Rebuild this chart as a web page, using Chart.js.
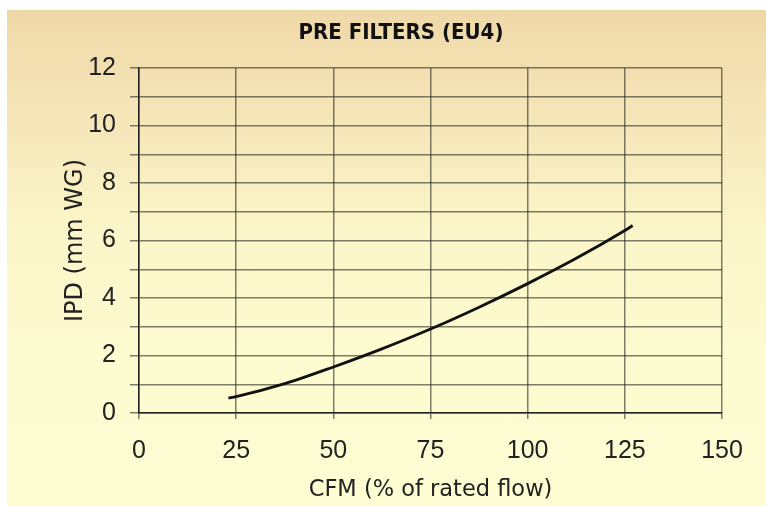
<!DOCTYPE html>
<html>
<head>
<meta charset="utf-8">
<script src="https://cdn.jsdelivr.net/npm/chart.js@4"></script>
<style>
  html, body { margin: 0; padding: 0; background: #fff; }
  #frame {
    position: absolute; left: 7px; top: 10px; width: 759px; height: 496px;
    background: linear-gradient(to bottom, #efd8a8 0%, #f6e8bb 25%, #fbf6c9 45%, #fdfbd0 70%, #fefcd2 100%);
  }
  #title {
    position: absolute; left: 194px; top: 9px; width: 400px; text-align: center;
    font-family: "DejaVu Sans", sans-serif; font-stretch: condensed; font-weight: bold;
    font-size: 22px; line-height: 26px; color: #111;
  }
  canvas { display: block; position: absolute; left: 0; top: 0; }
</style>
</head>
<body>
<div id="frame">
  <canvas id="chart" width="759" height="496"></canvas>
  <div id="title">PRE FILTERS (EU4)</div>
</div>
<script>
// values (CFM % of rated flow -> IPD mm WG)
const cfm = [23, 25, 37.5, 50, 62.5, 75, 87.5, 100, 112.5, 125, 127];
const ipd = [0.52, 0.57, 1.02, 1.6, 2.23, 2.92, 3.68, 4.5, 5.38, 6.35, 6.52];
const xTicks = [0, 25, 50, 75, 100, 125, 150];
const yLabelled = [0, 2, 4, 6, 8, 10, 12];

const gridColor = 'rgba(40, 40, 30, 0.6)';
const tickFont = { family: '"Liberation Sans", Arial, sans-serif', size: 25 };

const ctx = document.getElementById('chart').getContext('2d');

new Chart(ctx, {
    type: 'line',
    data: {
        datasets: [{
            data: cfm.map((x, i) => ({ x: x, y: ipd[i] })),
            borderColor: '#111',
            borderWidth: 2.8,
            pointRadius: 0,
            tension: 0.4,
            cubicInterpolationMode: 'monotone',
            fill: false
        }]
    },
    options: {
        responsive: false,
        animation: false,
        layout: { padding: { right: 44, top: 58, left: 0, bottom: 0 } },
        plugins: {
            legend: { display: false },
            tooltip: { enabled: false },
            title: { display: false }
        },
        scales: {
            x: {
                type: 'linear',
                min: 0,
                max: 150,
                afterBuildTicks: (axis) => { axis.ticks = xTicks.map(v => ({ value: v })); },
                afterFit: (axis) => { axis.height = 93; },
                ticks: { font: tickFont, color: '#222', padding: 17, maxRotation: 0, autoSkip: false },
                grid: { color: gridColor, lineWidth: 1.5, tickLength: 6 },
                border: { color: '#222', width: 1.5 },
                title: {
                    display: true,
                    text: 'CFM (% of rated flow)',
                    color: '#222',
                    font: { family: '"DejaVu Sans", sans-serif', size: 22.5 },
                    padding: { top: 0, bottom: 2 }
                }
            },
            y: {
                min: 0,
                max: 12,
                afterFit: (axis) => { axis.width = 132; },
                ticks: {
                    stepSize: 1,
                    autoSkip: false,
                    font: tickFont,
                    color: '#222',
                    padding: 14,
                    callback: (v) => yLabelled.includes(v) ? String(v) : ''
                },
                grid: { color: gridColor, lineWidth: 1.5, tickLength: 9 },
                border: { color: '#222', width: 1.5 },
                title: {
                    display: true,
                    text: 'IPD (mm WG)',
                    color: '#222',
                    font: { family: '"DejaVu Sans", sans-serif', size: 24 },
                    padding: { top: 54, bottom: 0 }
                }
            }
        }
    }
});
</script>
</body>
</html>
